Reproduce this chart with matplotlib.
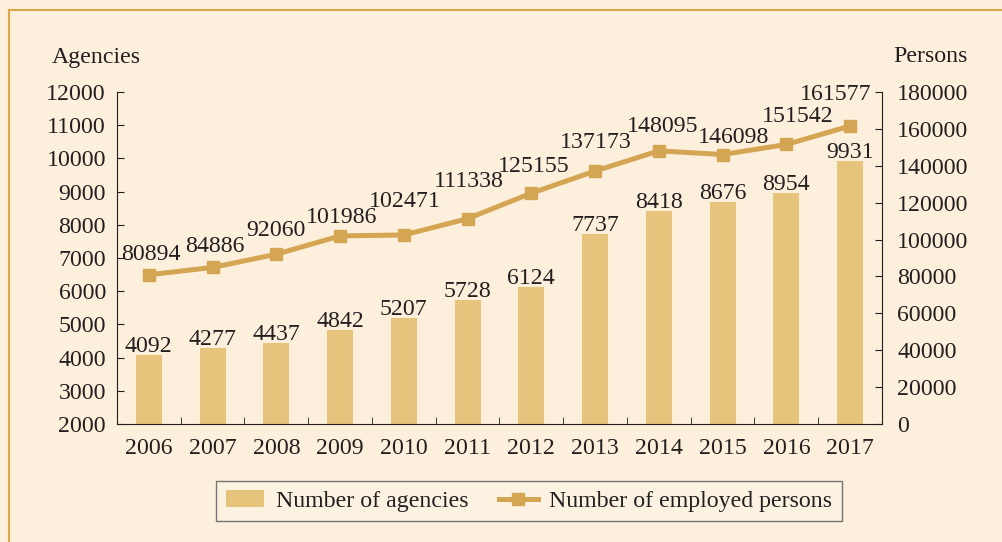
import matplotlib.pyplot as plt
from matplotlib.lines import Line2D

plt.rcParams['font.family'] = ['Liberation Serif', 'DejaVu Serif']

# data
years = ['2006', '2007', '2008', '2009', '2010', '2011',
         '2012', '2013', '2014', '2015', '2016', '2017']
agencies = [4092, 4277, 4437, 4842, 5207, 5728, 6124, 7737, 8418, 8676, 8954, 9931]
persons = [80894, 84886, 92060, 101986, 102471, 111338,
           125155, 137173, 148095, 146098, 151542, 161577]

# label nudges for the line values (pixels: dx, dy from marker to text baseline)
person_label_shift = [(2, 15), (2, 15), (0, 18), (1, 13), (1, 28), (1, 32),
                      (2, 21), (1, 23), (4, 19), (11, 12), (11, 22), (-14, 26)]

bg = '#fcf0dc'
bar_color = '#e6c47b'
line_color = '#d4a553'
text_color = '#231f20'
fs = 17.2

fig = plt.figure(figsize=(10.03, 5.42), dpi=100, facecolor=bg)

# thin gold frame (left and top edges visible)
fig.add_artist(Line2D([9 / 1003, 9 / 1003], [1 - 10 / 542, -0.1], transform=fig.transFigure,
                      color='#d8a84c', lw=1.5))
fig.add_artist(Line2D([9 / 1003, 1.1], [1 - 10 / 542, 1 - 10 / 542], transform=fig.transFigure,
                      color='#d8a84c', lw=1.5))

ax = fig.add_axes([117 / 1003, 118 / 542, 765 / 1003, 332 / 542])
ax.set_facecolor('none')
x = list(range(len(years)))
ax.bar(x, agencies, width=0.41, color=bar_color, label='Number of agencies', zorder=2)
ax.set_ylim(2000, 12000)
ax.set_xlim(-0.5, len(years) - 0.5)
ax.set_yticks(range(2000, 12001, 1000))
ax.set_xticks(x)
ax.set_xticklabels(years, fontsize=fs, color=text_color)
ax.set_xticks([i + 0.5 for i in range(-1, len(years))], minor=True)
ax.tick_params(axis='x', which='major', length=0, pad=10)
ax.tick_params(axis='x', which='minor', direction='in', length=5, color=text_color)
ax.tick_params(axis='y', direction='in', length=5, labelsize=fs, labelcolor=text_color,
               color=text_color, pad=8)
for s in ['top', 'right']:
    ax.spines[s].set_visible(False)
for s in ['left', 'bottom']:
    ax.spines[s].set_color(text_color)
for xi, v in zip(x, agencies):
    ax.annotate(str(v), (xi, v), xytext=(0, 3), textcoords='offset pixels',
                ha='center', va='baseline', fontsize=fs, color=text_color)

ax2 = ax.twinx()
ax2.plot(x, persons, color=line_color, lw=3.6, marker='s', markersize=9,
         label='Number of employed persons', zorder=3)
ax2.set_ylim(0, 180000)
ax2.set_yticks(range(0, 180001, 20000))
ax2.tick_params(axis='y', direction='in', length=5, labelsize=fs, labelcolor=text_color,
                color=text_color, pad=11)
for s in ['top', 'left', 'bottom']:
    ax2.spines[s].set_visible(False)
ax2.spines['right'].set_color(text_color)
for xi, v, (dx, dy) in zip(x, persons, person_label_shift):
    ax2.annotate(str(v), (xi, v), xytext=(dx, dy), textcoords='offset pixels',
                 ha='center', va='baseline', fontsize=fs, color=text_color)

fig.text(52 / 1003, 1 - 57 / 542, 'Agencies', fontsize=fs, color=text_color, va='center', ha='left')
fig.text(968 / 1003, 1 - 57 / 542, 'Persons', fontsize=fs, color=text_color, va='center', ha='right')

h1, l1 = ax.get_legend_handles_labels()
h2, l2 = ax2.get_legend_handles_labels()
leg = fig.legend(h1 + h2, l1 + l2, loc='center', bbox_to_anchor=(529 / 1003, 1 - 501 / 542),
                 ncol=2, fontsize=fs, frameon=True, fancybox=False, handlelength=1.6,
                 columnspacing=1.3, handletextpad=0.5, borderpad=0.4, borderaxespad=0)
leg.get_frame().set_edgecolor('#555555')
leg.get_frame().set_facecolor('#fdf3e3')
leg.get_frame().set_linewidth(1.0)
for t in leg.get_texts():
    t.set_color(text_color)

fig.savefig('out.png', dpi=100, facecolor=bg)
